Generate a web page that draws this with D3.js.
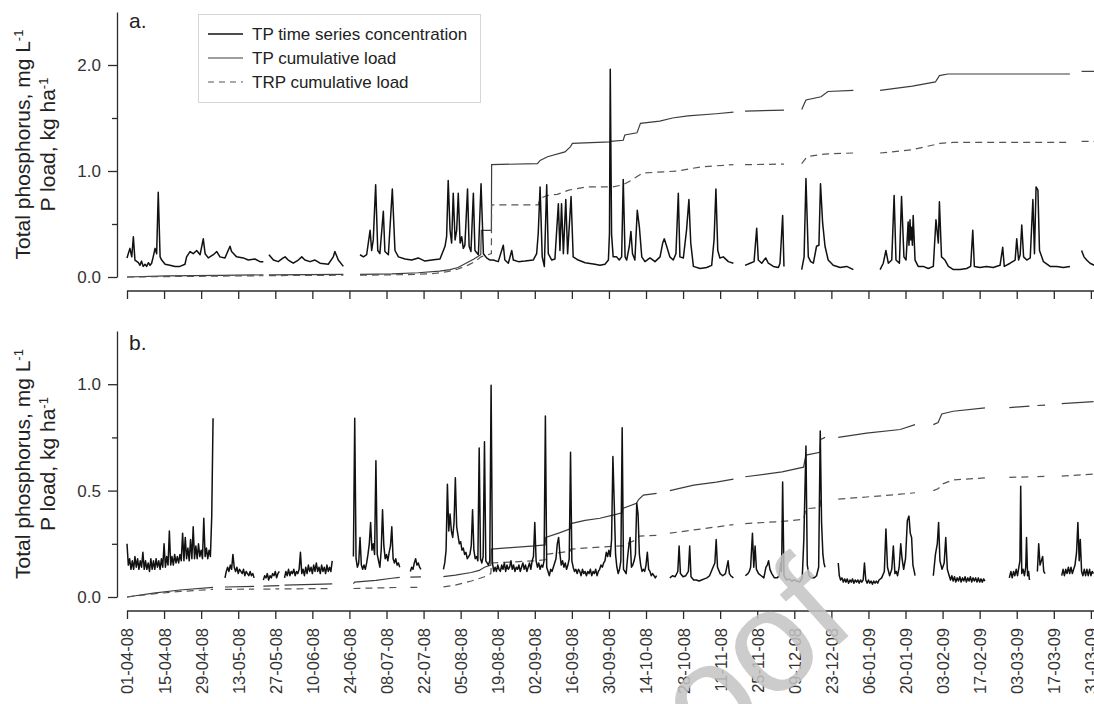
<!DOCTYPE html>
<html>
<head>
<meta charset="utf-8">
<script src="https://cdn.jsdelivr.net/npm/d3@7"></script>
<style>
  body { margin: 0; background: #fff; }
  svg { display: block; }
  text { font-family: "Liberation Sans", Arial, sans-serif; }
</style>
</head>
<body>
<svg id="chart" width="1094" height="704"></svg>
<script>
// Day 0 of the record is 01-04-08; all series positions are days from that date.
const startDate = Date.UTC(2008, 3, 1);

const tickLabels = ["01-04-08","15-04-08","29-04-08","13-05-08","27-05-08","10-06-08","24-06-08",
  "08-07-08","22-07-08","05-08-08","19-08-08","02-09-08","16-09-08","30-09-08","14-10-08",
  "28-10-08","11-11-08","25-11-08","09-12-08","23-12-08","06-01-09","20-01-09","03-02-09",
  "17-02-09","03-03-09","17-03-09","31-03-09"];

const legendLabels = ["TP time series concentration", "TP cumulative load", "TRP cumulative load"];
const panelLetters = ["a.", "b."];

// ---------- Panel a ----------
// TP concentration (mg/L): segments of [day, value], broken where records are missing
const concA = [
  [[0,.18],[1.1,.27],[1.8,.19],[2.4,.38],[3,.16],[4.3,.135],[4.9,.11],[5.5,.15],[6.1,.10],[6.8,.12],
   [7.4,.10],[8.1,.135],[8.7,.11],[9.3,.13],[9.9,.19],[10.6,.27],[11.2,.22],[11.8,.80],[12.5,.19],
   [13.1,.16],[14.4,.12],[16.2,.11],[18.1,.10],[20,.10],[21.9,.12],[22.5,.19],[23.8,.24],[25,.22],
   [26.3,.25],[27.6,.21],[28.8,.36],[29.5,.22],[30.7,.18],[32.6,.21],[33.9,.24],[35.1,.19],[37,.18],
   [38.9,.29],[39.5,.24],[41.4,.19],[43.9,.18],[45.8,.16],[48.3,.17],[50.2,.145],[51.5,.145]],
  [[53.6,.21],[55.3,.16],[57.1,.145],[59,.18],[59.7,.19],[60.9,.16],[62.8,.13],[64.7,.16],[66,.19],
   [67.2,.16],[69.1,.145],[71,.16],[72.9,.13],[76,.12],[77.9,.19],[78.5,.24],[79.8,.16],[81.7,.10]],
  [[88,.21],[89.3,.19],[90.5,.21],[91.8,.44],[92.4,.25],[93,.35],[93.9,.87],[94.7,.25],[95.5,.22],
   [96.8,.62],[97.4,.24],[98.7,.21],[100.2,.83],[101.2,.25],[102.5,.19],[105,.17],[107.5,.16],
   [110,.18],[112.5,.15],[115.1,.16],[118.2,.17],[120.1,.29],[120.7,.38],[121.3,.91],[122,.44],
   [122.6,.32],[123.2,.79],[123.9,.35],[124.5,.44],[125.1,.79],[125.8,.32],[126.4,.38],[127,.27],
   [127.6,.30],[128.6,.83],[129.2,.29],[129.9,.24],[130.8,.79],[131.4,.25],[132.7,.21],[133.7,.88],
   [134.6,.22],[135.8,.18],[137.1,.16],[138.3,.16],[140.2,.145],[142.1,.30],[142.7,.16],[144,.13],
   [145.3,.25],[145.9,.16],[147.8,.145],[150.3,.15],[153.4,.16],[154.7,.22],[155.3,.41],[156,.85],
   [156.8,.19],[157.6,.10],[158.5,.87],[159.1,.22],[160.4,.16],[161.6,.17],[162.9,.69],[163.5,.25],
   [164.1,.69],[164.8,.22],[165.7,.73],[166.4,.22],[167.7,.76],[168.5,.19],[170.4,.16],[173,.135],
   [176.7,.12],[178.6,.11],[180.5,.12],[181.8,.16],[182.2,.41],[182.5,1.96],[183,.40],[183.6,.19],
   [184.9,.19],[185.9,.16],[186.8,.19],[187.4,.92],[188.1,.19],[188.7,.16],[189.7,.29],[190.3,.43],
   [190.9,.22],[191.8,.16],[192.7,.63],[193.5,.47],[194.4,.19],[195.6,.145],[197.5,.18],[199.4,.145],
   [201.3,.19],[202.3,.32],[202.9,.36],[203.8,.29],[205,.19],[206.3,.16],[207.3,.22],[208.2,.79],
   [208.8,.19],[210.1,.18],[211.3,.44],[212.2,.73],[212.9,.32],[213.9,.10],[216.4,.08],[218.9,.09],
   [220.8,.11],[221.7,.35],[222.4,.83],[223.1,.25],[223.9,.18],[225.2,.19],[227.1,.145],[229,.13]],
  [[233.4,.11],[235.3,.13],[236.8,.145],[237.8,.46],[238.4,.16],[239.7,.13],[241.2,.18],[242.2,.13],
   [244.1,.10],[246,.09],[246.6,.13],[247.6,.58],[248.1,.10]],
  [[254.8,.07],[255.7,.19],[256.4,.93],[257.3,.19],[258.2,.145],[259.2,.13],[260.4,.29],[261.3,.30],
   [261.9,.88],[262.7,.51],[263.6,.29],[264.8,.16],[266.7,.11],[269.3,.09],[271.8,.10],[274.3,.07]],
  [[284.4,.07],[285.6,.13],[286.6,.25],[287.5,.13],[288.8,.16],[289.7,.77],[290.4,.16],[291.7,.13],
   [292.5,.76],[293.4,.19],[294.2,.16],[295,.52],[295.3,.30],[295.7,.54],[296,.35],[296.3,.47],
   [296.6,.30],[296.9,.58],[297.6,.16],[298.8,.10],[300.7,.10],[302.6,.08],[304.5,.10],[305.5,.54],
   [306.4,.32],[306.8,.71],[307.6,.19],[308.9,.16],[310.2,.10],[312.1,.07],[314.6,.07],[317.1,.08],
   [318.6,.10],[319.4,.44],[320,.10],[322.1,.09],[324.6,.10],[327.1,.09],[329.7,.11],[330.7,.28],
   [331.3,.10],[333.5,.13],[335.4,.16],[336,.36],[336.7,.16],[337.3,.21],[337.9,.49],[338.6,.19],
   [339.8,.16],[341.1,.18],[342.1,.73],[342.7,.22],[343.3,.85],[344,.82],[344.6,.25],[346.1,.145],
   [348.6,.10],[351.1,.10],[353.6,.09],[356.1,.10]],
  [[360.5,.25],[361.4,.19],[362.4,.16],[363.7,.13],[365.3,.11]]
];

// TP cumulative load (kg/ha)
const tpA = [
  [[0,0],[15,.01],[35,.015],[51.5,.02]],
  [[53.6,.02],[81.7,.025]],
  [[88,.025],[100,.03],[110,.04],[118,.055],[122,.07],[125,.09],[128,.13],[131,.17],[133.6,.21],
   [133.8,.44],[137.6,.44],[137.7,1.06],[155,1.07],[156,1.10],[158.8,1.135],[165.4,1.18],[167.5,1.23],
   [168.2,1.26],[182.4,1.275],[182.6,1.28],[187.4,1.29],[188,1.34],[192.6,1.36],[193.9,1.45],
   [201.2,1.47],[206,1.50],[211.8,1.52],[222.5,1.54],[229,1.555]],
  [[233.4,1.565],[248.1,1.575]],
  [[254.8,1.58],[256.4,1.67],[262.1,1.70],[264.7,1.75],[274.3,1.76]],
  [[284.4,1.76],[296.6,1.80],[305.3,1.84],[306.8,1.90],[310,1.915],[356.1,1.915]],
  [[360.5,1.94],[365.3,1.94]]
];

// TRP cumulative load (kg/ha)
const trpA = [
  [[0,0],[20,.005],[51.5,.012]],
  [[53.6,.013],[81.7,.017]],
  [[88,.017],[105,.022],[115,.03],[121,.05],[125,.075],[128.6,.11],[131,.14],[133.7,.19],[137.6,.22],
   [137.7,.68],[155.3,.68],[156,.74],[158.8,.77],[162.5,.78],[166.8,.82],[173.5,.85],[183.5,.85],
   [187.4,.87],[190.6,.915],[194.6,.98],[207.8,1.0],[217,1.04],[229,1.06]],
  [[233.4,1.06],[248.1,1.065]],
  [[254.8,1.07],[256.8,1.135],[263.4,1.16],[274.3,1.17]],
  [[284.4,1.17],[296.5,1.20],[307,1.26],[312,1.27],[356.1,1.27]],
  [[360.5,1.28],[365.3,1.28]]
];

// ---------- Panel b ----------
// Runs of regular readings: {from: first day, step: days between readings, v: values (mg/L)}
const concB = [
  {from: 0, step: .5, v: [.25,.15,.18,.13,.17,.13,.19,.14,.18,.13,.17,.14,.21,.13,.17,.13,.16,.12,.18,.13,
    .17,.13,.18,.14,.17,.13,.18,.14,.25,.14,.19,.15,.31,.15,.19,.15,.20,.16,.19,.16,
    .20,.17,.30,.17,.28,.18,.23,.17,.27,.18,.33,.18,.24,.18,.25,.19,.22,.18,.37,.19,
    .23,.18,.22,.19,.38,.84]},
  {from: 37, step: .5, v: [.09,.12,.14,.12,.15,.13,.20,.14,.12,.14,.11,.13,.12,.11,.13,.10,.12,.11,.10,.12,.10,.11,.09]},
  {from: 51.5, step: .5, v: [.08,.10,.09,.11,.08,.10,.09,.11,.10,.12,.09,.11,.12]},
  {from: 59.5, step: .5, v: [.09,.12,.10,.13,.10,.12,.11,.13,.10,.12,.11,.13,.21,.11,.13,.10,.14,.11,.15,.12,
    .14,.11,.15,.12,.16,.12,.14,.11,.15,.12,.14,.11,.15,.12,.14,.12,.17]},
  {from: 85.5, step: .5, v: [.19,.84,.18,.14,.16,.28,.15,.13,.15,.13,.16,.20,.25,.35,.22,.25,.20,.64,.20,.17,
    .14,.22,.41,.24,.18,.20,.17,.21,.24,.33,.18,.16,.18,.15,.16,.14]},
  {from: 107, step: .5, v: [.12,.14,.13,.16,.18,.15,.16,.14,.13]},
  {from: 119.5, step: .5, v: [
    .13,.16,.22,.53,.31,.39,.31,.28,.35,.56,
    .33,.29,.25,.26,.22,.23,.20,.21,.18,.19,
    .20,.24,.41,.22,.18,.19,.17,.70,.18,.16,
    .19,.73,.17,.16,.15,.17,.995,.16,.12,.14,
    .12,.15,.13,.12,.15,.13,.16,.12,.15,.13,
    .14,.17,.13,.15,.12,.14,.13,.15,.12,.14,
    .16,.13,.15,.12,.14,.16,.13,.17,.19,.35,
    .17,.14,.16,.13,.15,.14,.17,.85,.14,.12,
    .10,.13,.12,.14,.16,.18,.25,.28,.20,.15,
    .17,.14,.16,.13,.15,.18,.68,.17,.14,.12,
    .13,.11,.13,.12,.10,.13,.11,.12,.10,.12,
    .11,.13,.10,.12,.11,.13,.10,.12,.13,.15,
    .14,.16,.17,.21,.19,.22,.19,.27,.66,.44,
    .20,.14,.11,.13,.17,.795,.13,.12,.11,.18,
    .24,.28,.14,.15,.17,.20,.44,.39,.20,.15,
    .12,.13,.12,.15,.21,.13,.12,.10,.11,.10,
    .09,.10]},
  [[205,.09],[206,.10],[207,.095],[208,.12],[208.5,.24],[209,.11],[210,.095],[211,.10],[212,.12],
   [212.5,.24],[213,.095],[214,.08],[215,.08],[216,.075],[217,.08],[218,.085],[219,.09],[220,.10],
   [221,.13],[222,.16],[222.5,.27],[223,.14],[224,.11],[225,.10],[226,.11],[227,.17],[227.5,.11],
   [228,.10],[229,.09]],
  [[233.5,.10],[234.5,.11],[235,.12],[235.5,.14],[236.2,.30],[236.7,.14],[237.2,.24],[237.7,.13],
   [238.5,.11],[239.5,.10],[240.5,.09],[241.3,.14],[241.8,.15],[242.3,.17],[242.8,.13],[243.5,.11],
   [244.5,.09],[245.5,.09],[246.3,.10],[246.9,.16],[247.2,.12],[247.6,.54],[248.1,.10],[249,.08],
   [250,.085],[251,.075],[252,.08],[253,.075],[254,.07],[255,.09],[255.6,.27],[256.4,.71],[256.9,.15],
   [257.6,.10],[258.5,.09],[259.5,.09],[260.4,.10],[261.2,.14],[261.8,.78],[262.3,.35],[262.8,.20],
   [263.2,.16],[263.6,.14]],
  [[268.6,.16],[269,.10],[269.5,.08],[270,.09],[270.5,.07],[271,.085],[271.5,.07],[272,.085],
   [272.5,.065],[273,.08],[273.5,.07],[274,.085],[274.5,.065],[275,.08],[275.5,.07],[276,.08],
   [276.5,.065],[277,.08],[277.5,.07],[278,.08],[278.5,.16],[279,.08],[279.5,.065],[280,.08],
   [280.5,.065],[281,.075],[281.5,.06],[282,.075],[282.5,.065],[283,.075],[283.5,.065],[284,.08],
   [285,.09],[286,.12],[286.6,.32],[287.2,.14],[288,.10],[288.8,.13],[289.4,.24],[290,.11],
   [290.5,.12],[291,.10],[291.6,.14],[292.2,.25],[292.7,.18],[293.3,.13],[294,.18],[294.7,.36],
   [295.3,.38],[295.8,.30],[296.3,.28],[296.8,.15],[297.3,.12],[297.6,.10]],
  [[304.5,.10],[305.3,.20],[306,.25],[306.5,.35],[307,.17],[307.8,.13],[308.6,.16],[309.2,.28],
   [309.8,.13],[310.5,.10],[311,.08],[311.5,.10],[312,.075],[312.5,.095],[313,.07],[313.5,.09],
   [314,.075],[314.5,.095],[315,.07],[315.5,.09],[316,.075],[316.5,.095],[317,.07],[317.5,.09],
   [318,.075],[318.5,.095],[319,.07],[319.5,.09],[320,.075],[320.5,.09],[321,.07],[321.5,.09],
   [322,.07],[322.5,.085],[323,.07],[323.5,.085],[324,.075]],
  [[333.2,.09],[333.8,.12],[334.3,.09],[334.8,.12],[335.3,.10],[335.8,.13],[336.3,.10],[336.8,.14],
   [337.2,.17],[337.5,.52],[337.9,.11],[338.4,.13],[338.9,.10],[339.4,.14],[339.7,.28],[340.1,.10],
   [340.5,.12],[340.8,.08]],
  [[343.8,.12],[344.3,.25],[344.8,.15],[345.3,.17],[345.8,.19],[346.2,.12],[346.7,.11]],
  [[353,.10],[353.5,.13],[354,.10],[354.5,.13],[355,.11],[355.5,.14],[356,.11],[356.5,.14],[357,.11],
   [357.5,.13],[358,.15],[358.6,.21],[359.1,.35],[359.6,.17],[360,.27],[360.5,.12],[361,.10],
   [361.5,.13],[362,.10],[362.5,.13],[363,.10],[363.5,.13],[364,.10],[364.5,.12],[365,.11]]
];

const tpB = [
  [[0,0],[10,.018],[20,.033],[32.5,.045]],
  [[37,.047],[48,.05]],
  [[51.5,.051],[57.5,.053]],
  [[59.5,.056],[77.5,.062]],
  [[85.5,.063],[86,.07],[94,.078],[100,.088],[103,.092]],
  [[107,.093],[111,.095]],
  [[119.5,.096],[124,.103],[130,.115],[133,.125],[135,.14],[137.4,.15],[137.6,.225],[145,.232],
   [154,.24],[157.9,.245],[158.1,.28],[163,.30],[167.4,.32],[167.6,.345],[173,.36],[178.6,.37],
   [183.5,.385],[187,.396],[187.2,.416],[192.4,.44],[193.2,.458],[195,.479],[200,.487]],
  [[205,.50],[214,.526],[222.6,.54],[229,.554]],
  [[233.5,.565],[247.4,.588],[255.5,.61],[256.4,.667],[261.7,.68],[261.9,.74],[263.6,.75]],
  [[268.6,.75],[279.3,.77],[292,.787],[297.6,.81]],
  [[304.5,.81],[306.3,.82],[307.7,.86],[312,.873],[324,.889]],
  [[333.2,.89],[340.8,.897]],
  [[343.8,.90],[346.7,.902]],
  [[353,.909],[365,.918]]
];

const trpB = [
  [[0,0],[10,.015],[20,.026],[32.5,.036]],
  [[37,.036],[48,.037]],
  [[51.5,.037],[57.5,.038]],
  [[59.5,.038],[77.5,.04]],
  [[85.5,.04],[103,.045]],
  [[107,.045],[111,.046]],
  [[119.5,.048],[124,.056],[130,.075],[135,.095],[137.4,.11],[137.6,.16],[154,.17],[157.9,.175],
   [158.1,.20],[167.4,.215],[167.6,.225],[178.6,.235],[187.2,.24],[192.4,.27],[193.5,.286],[200,.29]],
  [[205,.30],[214,.315],[229,.34]],
  [[233.5,.345],[247.4,.355],[255.5,.365],[256.4,.415],[261.7,.42],[261.9,.455],[263.6,.457]],
  [[268.6,.46],[279.3,.47],[292,.483],[297.6,.49]],
  [[304.5,.50],[306.5,.51],[307.7,.53],[312,.55],[324,.56]],
  [[333.2,.562],[340.8,.565]],
  [[343.8,.566],[346.7,.567]],
  [[353,.568],[365,.578]]
];

// ---------- drawing ----------
const DAY = 864e5;
const toDate = d => new Date(startDate + d * DAY);
const parseTick = d3.utcParse("%d-%m-%y");
const tickDates = tickLabels.map(parseTick);

const x = d3.scaleUtc()
  .domain([toDate(0), toDate(365)])
  .range([127, 127 + 365 * 2.648]);

// expand a regular run into [day, value] pairs
const asPairs = seg => Array.isArray(seg) ? seg : seg.v.map((v, i) => [seg.from + i * seg.step, v]);

const svg = d3.select("#chart");
const ink = "#2b2b2b";

const panels = [
  { letter: panelLetters[0], y0: 277, y1: 12, max: 2.5, majors: [0, 1, 2], minors: [0.5, 1.5],
    axisY: 291, labels: false, conc: concA, tp: tpA, trp: trpA, letterY: 28 },
  { letter: panelLetters[1], y0: 597, y1: 331, max: 1.25, majors: [0, 0.5, 1], minors: [0.25, 0.75],
    axisY: 611, labels: true, conc: concB, tp: tpB, trp: trpB, letterY: 350 }
];

panels.forEach(p => {
  const y = d3.scaleLinear().domain([0, p.max]).range([p.y0, p.y1]);
  const line = d3.line().x(d => x(toDate(d[0]))).y(d => y(d[1]));
  const g = svg.append("g");

  // y axis: labelled majors + short minors
  const yAx = g.append("g").attr("transform", "translate(117,0)")
    .call(d3.axisLeft(y).tickValues(p.majors).tickSize(9).tickSizeOuter(0).tickPadding(7)
      .tickFormat(d3.format(".1f")));
  g.append("g").attr("transform", "translate(117,0)")
    .call(d3.axisLeft(y).tickValues(p.minors).tickSize(5).tickFormat(""))
    .call(a => a.selectAll("line").attr("stroke", ink).attr("stroke-width", 1.3))
    .select(".domain").remove();

  // x axis, offset below the plotting area
  const xAx = g.append("g").attr("transform", `translate(0,${p.axisY})`)
    .call(d3.axisBottom(x).tickValues(tickDates).tickSize(8).tickSizeOuter(0)
      .tickFormat(p.labels ? d3.utcFormat("%d-%m-%y") : ""));
  xAx.select(".domain").attr("d", `M127,0H1094`);

  [yAx, xAx].forEach(a => {
    a.selectAll("path,line").attr("stroke", ink).attr("stroke-width", 1.3);
    a.selectAll("text").attr("fill", "#333").style("font-size", "17px");
  });
  if (p.labels) {
    xAx.selectAll("text")
      .attr("transform", "rotate(-90)")
      .attr("x", -17).attr("y", 0).attr("dy", "0.36em")
      .style("text-anchor", "end").style("font-size", "16.5px");
  }

  // cumulative loads
  g.append("g").selectAll("path").data(p.tp.map(asPairs)).join("path")
    .attr("d", line).attr("fill", "none").attr("stroke", "#3c3c3c").attr("stroke-width", 1.2);
  g.append("g").selectAll("path").data(p.trp.map(asPairs)).join("path")
    .attr("d", line).attr("fill", "none").attr("stroke", "#555").attr("stroke-width", 1.2)
    .attr("stroke-dasharray", "7,5");

  // concentration series
  g.append("g").selectAll("path").data(p.conc.map(asPairs)).join("path")
    .attr("d", line).attr("fill", "none").attr("stroke", "#111").attr("stroke-width", 1.5)
    .attr("stroke-linejoin", "round");

  // panel letter
  g.append("text").attr("x", 129).attr("y", p.letterY).text(p.letter)
    .attr("fill", "#222").style("font-size", "21px");

  // y-axis title, two lines
  const cy = (p.y0 + p.y1) / 2;
  const t1 = g.append("text").attr("transform", "rotate(-90)")
    .attr("x", -cy).attr("y", 22).attr("dy", "0.36em").attr("text-anchor", "middle")
    .attr("fill", "#222").style("font-size", "21px");
  t1.append("tspan").text("Total phosphorus, mg L");
  t1.append("tspan").attr("dy", "-0.5em").style("font-size", "13px").text("-1");
  const t2 = g.append("text").attr("transform", "rotate(-90)")
    .attr("x", -cy).attr("y", 47).attr("dy", "0.36em").attr("text-anchor", "middle")
    .attr("fill", "#222").style("font-size", "21px");
  t2.append("tspan").text("P load, kg ha");
  t2.append("tspan").attr("dy", "-0.5em").style("font-size", "13px").text("-1");
});

// legend
const lg = svg.append("g");
lg.append("rect").attr("x", 198.5).attr("y", 14.5).attr("width", 282).attr("height", 88)
  .attr("fill", "#fff").attr("stroke", "#d6d6d6").attr("stroke-width", 1);
const legendStyles = [
  { stroke: "#111", width: 1.6, dash: null },
  { stroke: "#3c3c3c", width: 1.2, dash: null },
  { stroke: "#555", width: 1.2, dash: "6,5" }
];
legendLabels.forEach((name, i) => {
  const yy = 34 + i * 24;
  const s = legendStyles[i];
  lg.append("line").attr("x1", 208).attr("x2", 243).attr("y1", yy).attr("y2", yy)
    .attr("stroke", s.stroke).attr("stroke-width", s.width).attr("stroke-dasharray", s.dash);
  lg.append("text").attr("x", 252).attr("y", yy).attr("dy", "0.36em").text(name)
    .attr("fill", "#222").style("font-size", "17px");
});

// diagonal proof stamp across the lower panel
svg.append("text")
  .attr("transform", "translate(602,858) rotate(-42)")
  .text("Proof")
  .attr("fill", "#c4c4c4").attr("opacity", 0.85)
  .style("font-size", "145px");
</script>
</body>
</html>
